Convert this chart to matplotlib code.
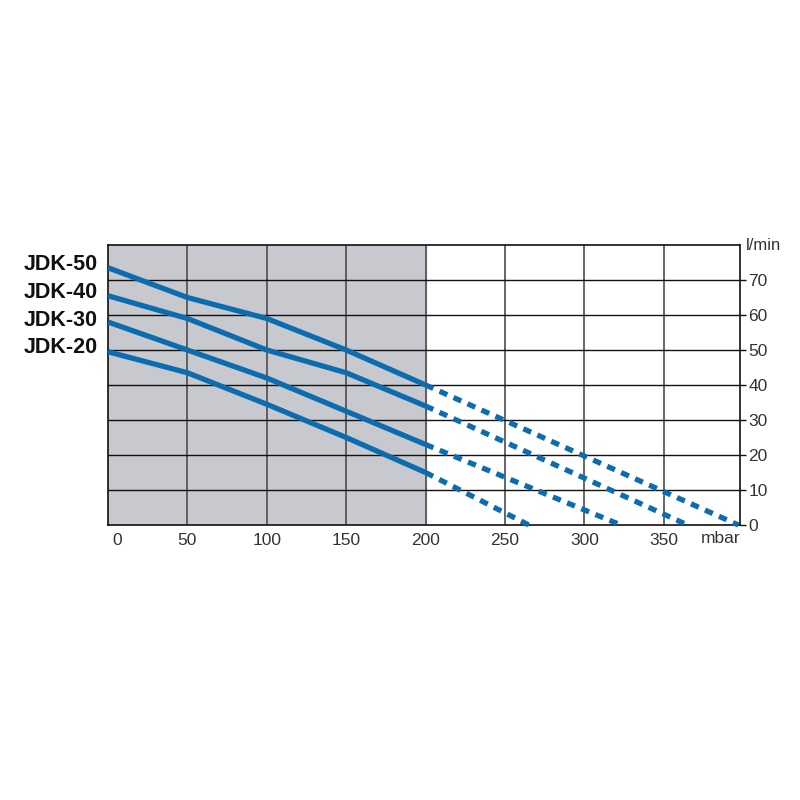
import numpy as np
import matplotlib
matplotlib.use("Agg")
import matplotlib.pyplot as plt
import matplotlib.transforms as mtransforms

plt.rcParams['font.family'] = ['Liberation Sans', 'DejaVu Sans']

# measured part of each curve (mbar, l/min)
pressure = [0, 50, 100, 150, 200]
models = ["JDK-50", "JDK-40", "JDK-30", "JDK-20"]
flow = {
    "JDK-50": [73.5, 65.0, 59.0, 50.0, 40.0],
    "JDK-40": [65.5, 59.0, 50.0, 43.5, 34.0],
    "JDK-30": [58.0, 50.0, 42.0, 32.5, 23.0],
    "JDK-20": [49.5, 43.5, 34.5, 25.0, 15.0],
}
# extrapolated end point where flow reaches zero (mbar)
zero_flow = {"JDK-50": 397, "JDK-40": 365, "JDK-30": 323, "JDK-20": 265}

xticks = [0, 50, 100, 150, 200, 250, 300, 350]
yticks = [0, 10, 20, 30, 40, 50, 60, 70]

blue = "#0b6cb0"
txt = "#333333"

fig = plt.figure(figsize=(8, 8), dpi=100)
ax = fig.add_axes([108/800, 1-525/800, 632/800, 280/800])
ax.set_xlim(0, 398)
ax.set_ylim(0, 80)

ax.axvspan(0, 200, color="#c7c9ce", zorder=0)
for x in range(50, 400, 50):
    ax.axvline(x, color="#4d4d4d", lw=1.2, zorder=1)
for y in range(10, 80, 10):
    ax.axhline(y, color="#111111", lw=1.0, zorder=1)

for m in models:
    ax.plot(pressure, flow[m], color=blue, lw=3.8, solid_capstyle="butt", zorder=3)
    ax.plot([pressure[-1], zero_flow[m]], [flow[m][-1], 0], color=blue, lw=3.8,
            linestyle=(0, (1.6, 1.3)), dash_capstyle="butt", zorder=3, clip_on=False)

for s in ax.spines.values():
    s.set_color("#111111")
    s.set_linewidth(1.2)

ax.set_xticks(xticks)
ax.set_xticklabels([str(v) for v in xticks], fontsize=12.5, color=txt)
ax.tick_params(axis="x", length=0, pad=6)
shift = mtransforms.ScaledTranslation(9/100, 0, fig.dpi_scale_trans)
ax.get_xticklabels()[0].set_transform(ax.get_xticklabels()[0].get_transform() + shift)
ax.text(386, -1.6, "mbar", ha="center", va="top", fontsize=12.5, color=txt)

ax.yaxis.tick_right()
ax.set_yticks(yticks)
ax.set_yticklabels([str(v) for v in yticks], fontsize=12.5, color=txt)
ax.tick_params(axis="y", direction="out", length=4, width=1.0, color="#111111", pad=2)
ax.text(1.01, 1.0, "l/min", transform=ax.transAxes, ha="left", va="center",
        fontsize=12, color=txt)

label_y = [265, 292, 320, 347]
for m, py in zip(models, label_y):
    fig.text(98/800, 1-py/800, m, ha="right", va="center", fontsize=15.5,
             fontweight="bold", color="#111111")

fig.savefig("out.png", dpi=100)
